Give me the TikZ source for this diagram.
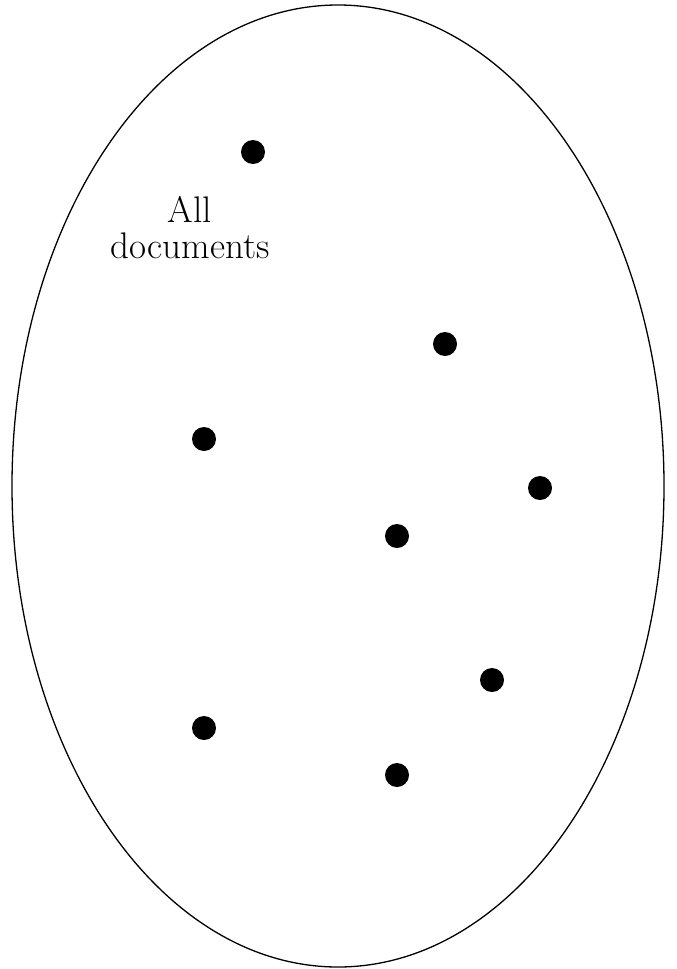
\documentclass[tikz,border=0pt]{standalone}
\usetikzlibrary{shapes.geometric}
\begin{document}
\begin{tikzpicture}[x=1pt,y=-1pt,
  doc/.style={circle,fill=black,inner sep=0pt,minimum size=24pt},
  lbl/.style={font=\fontsize{37}{36}\selectfont,align=center}]
\useasboundingbox (0,0) rectangle (677,969);
\node[draw=black,line width=1.3pt,ellipse,minimum width=652pt,minimum height=962pt,inner sep=0pt] (all) at (338,486) {};
\node[doc] (d1) at (253,152) {};
\node[doc] (d2) at (445,344) {};
\node[doc] (d3) at (204,439) {};
\node[doc] (d4) at (540,488) {};
\node[doc] (d5) at (397,536) {};
\node[doc] (d6) at (492,680) {};
\node[doc] (d7) at (204,728) {};
\node[doc] (d8) at (397,775) {};
\node[lbl] (t) at (190,228) {All\\documents};
\end{tikzpicture}
\end{document}
